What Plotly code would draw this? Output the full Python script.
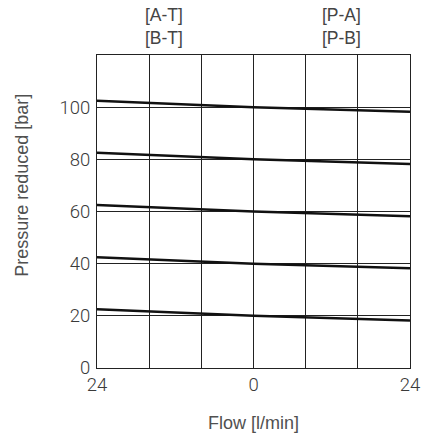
import plotly.graph_objects as go

flow = [-24, 0, 24]
set_pressures = [20, 40, 60, 80, 100]
deviation = [2.5, 0, -1.8]
x_tick_vals = [-24, 0, 24]
x_tick_text = ["24", "0", "24"]
y_tick_vals = [0, 20, 40, 60, 80, 100]

fig = go.Figure()
for p in set_pressures:
    fig.add_trace(go.Scatter(
        x=flow, y=[p + d for d in deviation], mode="lines",
        line=dict(color="#111111", width=2.5), showlegend=False, hoverinfo="skip"))

tick_font = dict(family="Roboto", size=18.5, color="#3a3a3a", weight=300)
fig.update_xaxes(range=[-24, 24], tickvals=x_tick_vals, ticktext=x_tick_text,
                 showgrid=True, gridcolor="#222222", gridwidth=1,
                 minor=dict(dtick=8, tick0=-24, showgrid=True, gridcolor="#222222", gridwidth=1),
                 showline=True, linecolor="#222222", linewidth=1, mirror=True,
                 ticks="", tickfont=tick_font, zeroline=False, automargin=False)
fig.update_yaxes(range=[0, 120], tickvals=y_tick_vals,
                 showgrid=True, gridcolor="#222222", gridwidth=1,
                 showline=True, linecolor="#222222", linewidth=1, mirror=True,
                 ticks="", tickfont=tick_font, zeroline=False, ticklabelstandoff=2,
                 automargin=False)

title_font = dict(family="Liberation Sans", size=18, color="#505050")
fig.add_annotation(text="Flow [l/min]", xref="paper", yref="paper", x=0.5, y=-0.176,
                   showarrow=False, font=title_font, xanchor="center", yanchor="middle")
fig.add_annotation(text="Pressure reduced [bar]", xref="paper", yref="paper", x=-0.24, y=0.585,
                   showarrow=False, font=title_font, textangle=-90, xanchor="center", yanchor="middle")
lab_font = dict(family="Liberation Sans", size=17.5, color="#444444")
fig.add_annotation(text="[A-T]<br>[B-T]", x=0.214, y=1.091, xref="paper", yref="paper",
                   showarrow=False, font=lab_font, xanchor="center", yanchor="middle")
fig.add_annotation(text="[P-A]<br>[P-B]", x=0.782, y=1.091, xref="paper", yref="paper",
                   showarrow=False, font=lab_font, xanchor="center", yanchor="middle")

fig.update_layout(width=422, height=441, margin=dict(l=97, r=12, t=55, b=73),
                  plot_bgcolor="white", paper_bgcolor="white")
fig.write_html("out.html", config={"displayModeBar": False},
               post_script="document.body.style.margin='0';document.body.style.overflow='hidden';")
